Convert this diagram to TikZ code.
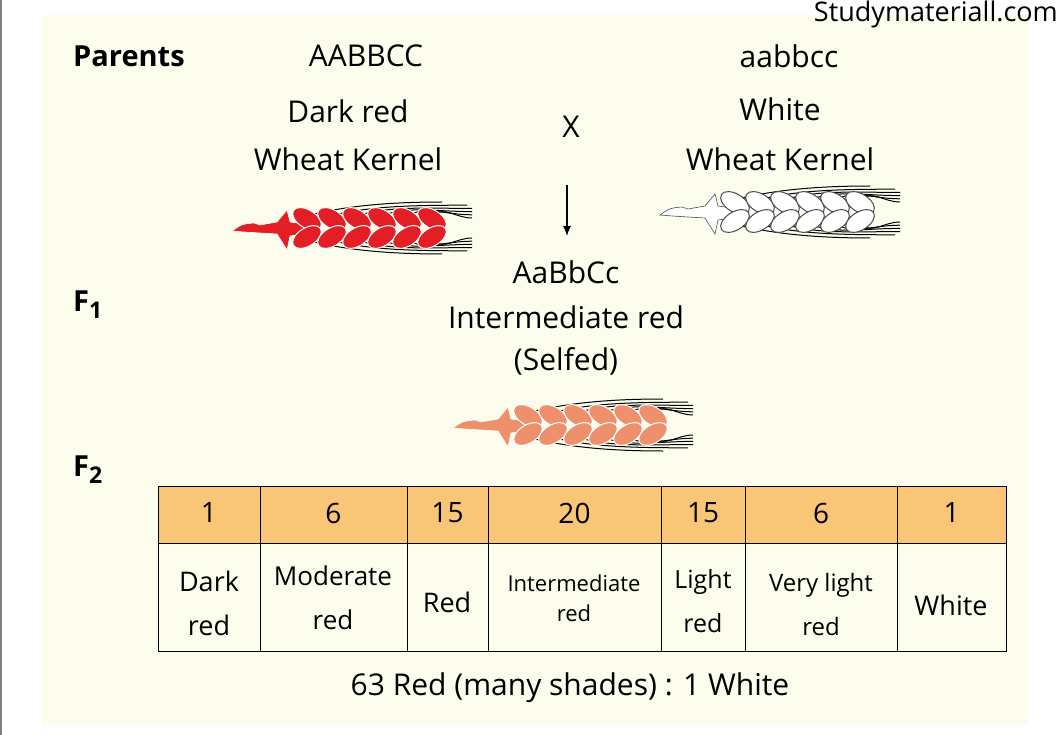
\documentclass[tikz,border=0pt]{standalone}
\usepackage{fontspec}
\setmainfont{Open Sans}
\usetikzlibrary{arrows.meta}
\begin{document}
\begin{tikzpicture}[x=1pt,y=-1pt,
  txt/.style={font=\fontsize{30}{34}\selectfont,inner sep=0pt},
  lbl/.style={font=\fontsize{29}{32}\selectfont\bfseries,inner sep=0pt},
  cell/.style={draw=black,line width=1pt},
  wheat/.pic={
    \filldraw[fill=wcol,draw=wedge,line width=0.6pt] (0,3) .. controls (10,-4) .. (22,-5) -- (28,-3) -- (45,-6) -- (55,-18) -- (58,-6) -- (72,-4) -- (72,6) -- (58,8) -- (55,22) -- (45,6) -- (28,5) .. controls (12,4) .. (0,3) -- cycle;
    \foreach \i in {0,...,5}{
      \pgfmathsetmacro{\xx}{75+\i*25}
      \pgfmathsetmacro{\ex}{min(\xx+135,240)}
      \pgfmathsetmacro{\ca}{\xx+0.3*(\ex-\xx)}
      \pgfmathsetmacro{\cb}{\xx+0.6*(\ex-\xx)}
      \pgfmathsetmacro{\ey}{-26+\i*3.2}
      \draw[black,line width=1pt] (\xx+2,-13) .. controls (\ca,-22) and (\cb,\ey) .. (\ex,\ey);
      \draw[black,line width=1pt] (\xx+2,13) .. controls (\ca,22) and (\cb,-\ey) .. (\ex,-\ey);
    }
    \foreach \i in {0,...,5}{
      \pgfmathsetmacro{\xx}{75+\i*25}
      \filldraw[fill=wcol,draw=wedge,line width=1pt,rotate around={-32:(\xx,-9)}] (\xx,-9) ellipse (16 and 9);
      \filldraw[fill=wcol,draw=wedge,line width=1pt,rotate around={32:(\xx,9)}] (\xx,9) ellipse (16 and 9);
    }
  }]
\definecolor{bg}{HTML}{FDFDEE}
\definecolor{hdr}{HTML}{F8C676}
\useasboundingbox (0,0) rectangle (1062,735);
\fill[white] (0,0) rectangle (1062,735);
\fill[bg] (42,15) rectangle (1028,725);
\draw[gray,line width=1.5pt] (1,0) -- (1,735);
\node[font=\fontsize{27}{30}\selectfont,inner sep=0pt,anchor=east] (web) at (1058,14) {Studymateriall.com};

\node[lbl,anchor=west] (par) at (73,56) {Parents};
\node[txt] (g1) at (366,56) {AABBCC};
\node[txt] (p1a) at (348,111) {Dark red};
\node[txt] (p1b) at (348,159) {Wheat Kernel};
\node[txt] (x) at (571,127) {X};
\node[txt] (g2) at (789,56) {aabbcc};
\node[txt] (p2a) at (780,109) {White};
\node[txt] (p2b) at (780,159) {Wheat Kernel};

\definecolor{wcol}{HTML}{E31E25}\colorlet{wedge}{white}
\pic at (232,228) {wheat};
\definecolor{wcol}{HTML}{FFFFFF}\colorlet{wedge}{black!70}
\pic at (660,212) {wheat};
\definecolor{wcol}{HTML}{EE906C}\colorlet{wedge}{white}
\pic at (453,425) {wheat};

\coordinate (a1) at (567,185);
\coordinate (a2) at (567,236);
\draw[-{Latex[length=10pt,width=8pt]},line width=1.2pt] (a1) -- (a2);

\node[lbl,anchor=west] (f1) at (73,305) {F\raisebox{-7pt}{\fontsize{23}{24}\selectfont 1}};
\node[txt] (f1g) at (566,272) {AaBbCc};
\node[txt] (f1p) at (566,317) {Intermediate red};
\node[txt] (f1s) at (566,361) {(Selfed)};
\node[lbl,anchor=west] (f2) at (73,470) {F\raisebox{-7pt}{\fontsize{23}{24}\selectfont 2}};

\def\xs{{158,260,407,488,661,745,897,1006}}
\foreach \i/\n in {0/1,1/6,2/15,3/20,4/15,5/6,6/1}{
  \pgfmathsetmacro{\xa}{\xs[\i]}\pgfmathsetmacro{\xb}{\xs[\i+1]}
  \filldraw[cell,fill=hdr] (\xa,486) rectangle (\xb,543);
  \filldraw[cell,fill=bg] (\xa,543) rectangle (\xb,651);
  \node[txt,font=\fontsize{28}{30}\selectfont] (h\i) at ({(\xa+\xb)/2},513) {\n};
}
\tikzset{ct/.style={txt,align=center,font=\fontsize{27}{44}\selectfont}}
\node[ct] (c0) at (209,603) {Dark\\red};
\node[ct,font=\fontsize{26}{44}\selectfont] (c1) at (333,598) {Moderate\\red};
\node[ct] (c2) at (447,602) {Red};
\node[ct,font=\fontsize{22}{30}\selectfont] (c3) at (574,598) {Intermediate\\red};
\node[ct,font=\fontsize{25}{44}\selectfont] (c4) at (703,601) {Light\\red};
\node[ct,font=\fontsize{24}{44}\selectfont] (c5) at (821,604) {Very light\\red};
\node[ct] (c6) at (951,605) {White};
\node[txt] (ratio) at (570,688) {63 Red (many shades) : 1 White};
\end{tikzpicture}
\end{document}
